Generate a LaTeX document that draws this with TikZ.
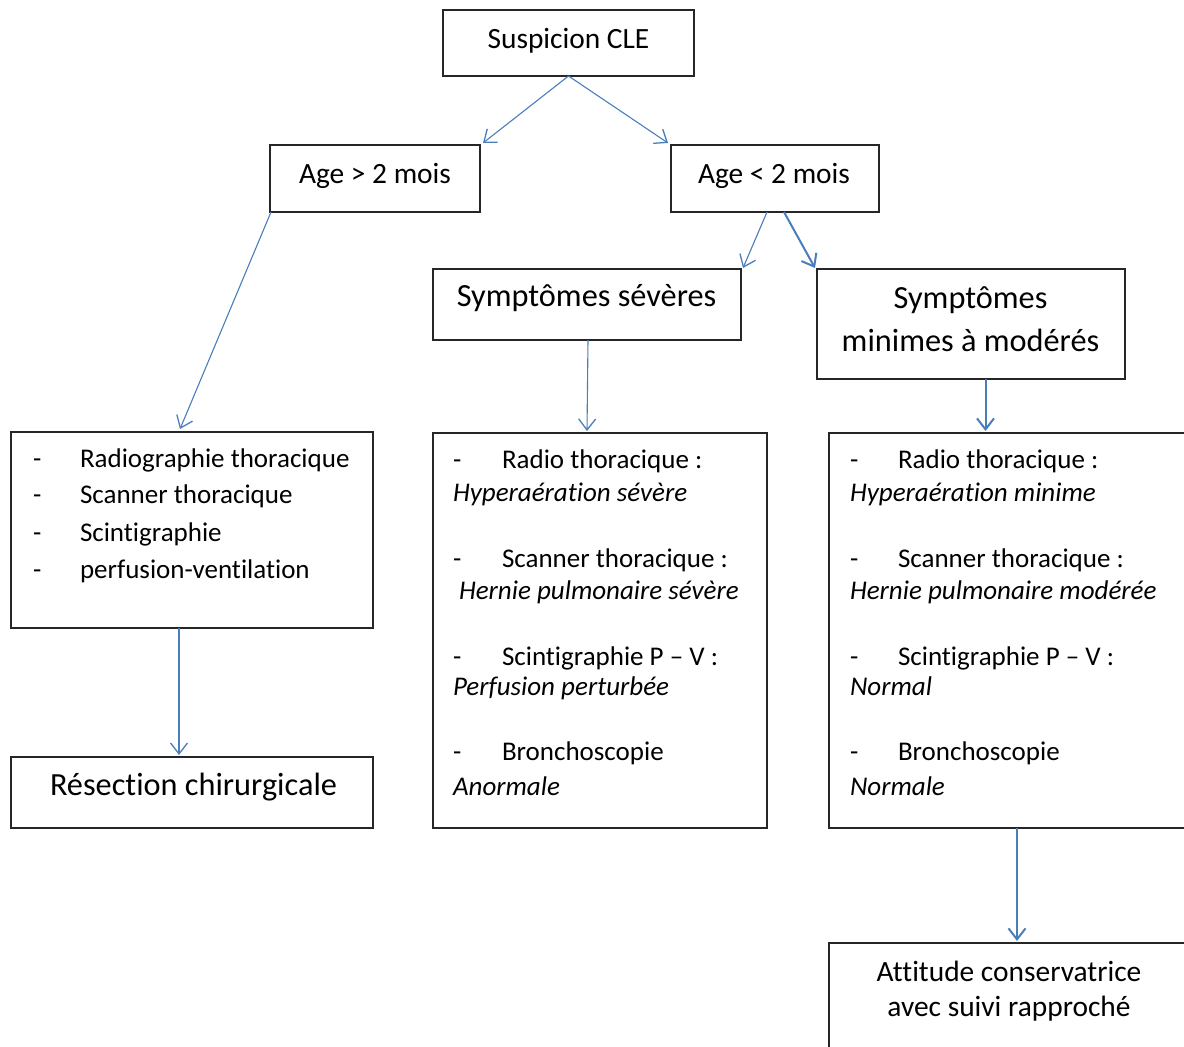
\documentclass[tikz,border=0pt]{standalone}
\usepackage{fontspec}
\setmainfont{Carlito}[Ligatures={NoCommon}]
\usetikzlibrary{arrows.meta,calc}
\definecolor{arrblue}{HTML}{4A7EBB}
\definecolor{boxline}{HTML}{262626}
\tikzset{
  box/.style={draw=boxline,line width=1.2pt,inner sep=0pt,outer sep=0pt,rectangle},
  txt/.style={inner sep=0pt,outer sep=0pt,anchor=base,font=\fontsize{29.4}{35}\selectfont},
  listtxt/.style={inner sep=0pt,outer sep=0pt,anchor=base west,font=\fontsize{27}{32}\selectfont},
  bigtxt/.style={inner sep=0pt,outer sep=0pt,anchor=base,font=\fontsize{32.3}{38}\selectfont},
  arr/.style={draw=arrblue,line width=1.1pt,-{Straight Barb[length=11pt,width=17pt,line width=1.3pt]}},
  arrthick/.style={draw=arrblue,line width=2pt,-{Straight Barb[length=11pt,width=17pt,line width=2pt]}}
}
\begin{document}
\begin{tikzpicture}[x=1pt,y=-1pt]
\useasboundingbox (0,0) rectangle (1184,1047);
\clip (0,0) rectangle (1184,1047);
% boxes
\node[box,minimum width=251pt,minimum height=66pt] (top) at (568.5,43) {};
\node[box,minimum width=210pt,minimum height=67pt] (a1) at (375,178.5) {};
\node[box,minimum width=208pt,minimum height=67pt] (a2) at (775,178.5) {};
\node[box,minimum width=308pt,minimum height=71pt] (s1) at (587,304.5) {};
\node[box,minimum width=308pt,minimum height=110pt] (s2) at (971,324) {};
\node[box,minimum width=362pt,minimum height=196pt] (L) at (192,530) {};
\node[box,minimum width=362pt,minimum height=71pt] (res) at (192,792.5) {};
\node[box,minimum width=334pt,minimum height=395pt] (M) at (600,630.5) {};
\node[box,minimum width=371pt,minimum height=395pt] (R) at (1014.5,630.5) {};
\node[box,minimum width=371pt,minimum height=117pt] (att) at (1014.5,1001.5) {};
% box texts
\node[txt] (ttop) at (568.5,48.3) {Suspicion CLE};
\node[txt] (ta1) at (375,183.3) {Age > 2 mois};
\node[txt] (ta2) at (774,183.3) {Age < 2 mois};
\node[bigtxt] (ts1) at (586.5,306.7) {Symptômes sévères};
\node[bigtxt] (ts2a) at (970.5,308) {Symptômes};
\node[bigtxt] (ts2b) at (970.5,351.7) {minimes à modérés};
\node[bigtxt] (tres) at (193.5,795) {Résection chirurgicale};
\node[txt] (tatt1) at (1009,981.7) {Attitude conservatrice};
\node[txt] (tatt2) at (1009,1016.7) {avec suivi rapproché};
% left list
\foreach \y/\t [count=\i] in {467/Radiographie thoracique,503.5/Scanner thoracique,541/Scintigraphie,578/perfusion-ventilation}{
  \node[listtxt] (Ld\i) at (33,\y) {-};
  \node[listtxt] (Lt\i) at (80,\y) {\t};
}
% middle list
\node[listtxt] (Md1) at (453,468) {-};
\node[listtxt] (Mt1) at (502,468) {Radio thoracique :};
\node[listtxt] (Mi1) at (453,501) {\itshape Hyperaération sévère};
\node[listtxt] (Md2) at (453,567.5) {-};
\node[listtxt] (Mt2) at (502,567.5) {Scanner thoracique :};
\node[listtxt] (Mi2) at (459,599) {\itshape Hernie pulmonaire sévère};
\node[listtxt] (Md3) at (453,665) {-};
\node[listtxt] (Mt3) at (502,665) {Scintigraphie P – V :};
\node[listtxt] (Mi3) at (453,695) {\itshape Perfusion perturbée};
\node[listtxt] (Md4) at (453,760) {-};
\node[listtxt] (Mt4) at (502,760) {Bronchoscopie};
\node[listtxt] (Mi4) at (453,795) {\itshape Anormale};
% right list
\node[listtxt] (Rd1) at (850,468) {-};
\node[listtxt] (Rt1) at (898,468) {Radio thoracique :};
\node[listtxt] (Ri1) at (850,501) {\itshape Hyperaération minime};
\node[listtxt] (Rd2) at (850,567.5) {-};
\node[listtxt] (Rt2) at (898,567.5) {Scanner thoracique :};
\node[listtxt] (Ri2) at (850,599) {\itshape Hernie pulmonaire modérée};
\node[listtxt] (Rd3) at (850,665) {-};
\node[listtxt] (Rt3) at (898,665) {Scintigraphie P – V :};
\node[listtxt] (Ri3) at (850,695) {\itshape Normal};
\node[listtxt] (Rd4) at (850,760) {-};
\node[listtxt] (Rt4) at (898,760) {Bronchoscopie};
\node[listtxt] (Ri4) at (850,795) {\itshape Normale};
% arrow endpoints
\coordinate (e1) at (483,143);
\coordinate (e2) at (668,143);
\coordinate (b1) at (271,212);
\coordinate (e3) at (180,429);
\coordinate (b2) at (767,212);
\coordinate (e4) at (743,268);
\coordinate (b3) at (784,212);
\coordinate (e5) at (815,268);
\coordinate (b4) at (588,340);
\coordinate (e6) at (587,431);
\coordinate (b5) at (985.5,379);
\coordinate (e7) at (985.5,431);
\coordinate (b6) at (179,628);
\coordinate (e8) at (179,755);
\coordinate (b7) at (1017,828);
\coordinate (e9) at (1017,941);
% arrows
\draw[arr] (top.south) -- (e1);
\draw[arr] (top.south) -- (e2);
\draw[arr] (b1) -- (e3);
\draw[arr] (b2) -- (e4);
\draw[arrthick] (b3) -- (e5);
\draw[arr] (b4) -- (e6);
\draw[arrthick] (b5) -- (e7);
\draw[arr] (b6) -- (e8);
\draw[arrthick] (b7) -- (e9);
\end{tikzpicture}
\end{document}
